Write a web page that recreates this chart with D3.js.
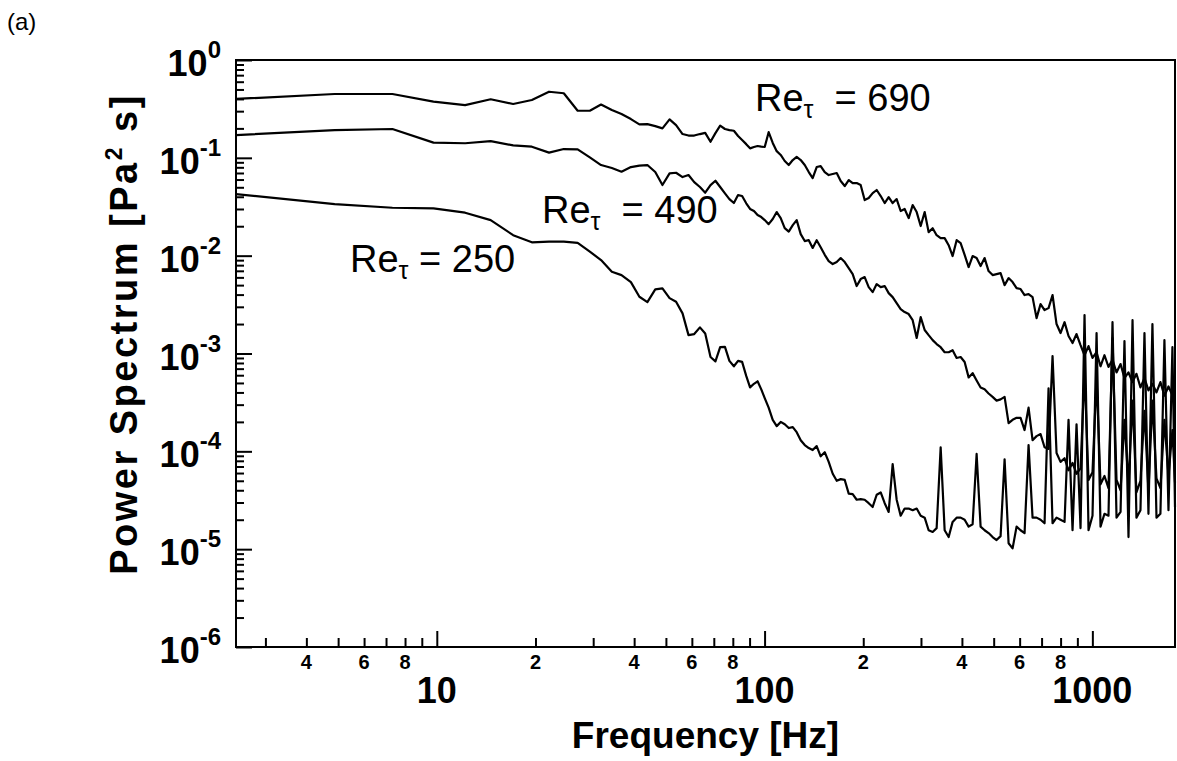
<!DOCTYPE html>
<html lang="en">
<head>
<meta charset="UTF-8">
<title>Power Spectrum</title>
<script src="https://d3js.org/d3.v7.min.js"></script>
<style>
    body { margin: 0; background: #fff; }
    text { font-family: "Liberation Sans", Arial, sans-serif; fill: #000; }
    .curve { fill: none; stroke: #000; stroke-width: 2.2; stroke-linejoin: round; }
    .tick line { stroke: #000; stroke-width: 2; }
</style>
</head>
<body>
<script>
    // frequency grid [Hz]
    const freq = [
        2.44, 4.88, 7.32, 9.77, 12.2, 14.6, 17.1, 19.5, 22.0, 24.4,
        26.9, 29.3, 31.7, 34.2, 36.6, 39.1, 41.5, 43.9, 46.4, 48.8,
        51.3, 53.7, 56.2, 58.6, 61.0, 63.5, 65.9, 68.4, 70.8, 73.2,
        75.7, 78.1, 80.6, 83.0, 85.4, 87.9, 90.3, 92.8, 95.2, 97.7,
        100.1,
        102.9, 105.9, 108.9, 112.0, 115.2, 118.5, 121.9, 125.3, 128.9, 132.6,
        136.4, 140.2, 144.2, 148.3, 152.6, 156.9, 161.4, 166.0, 170.7, 175.6,
        180.6, 185.7, 191.0, 196.4, 202.0, 207.8, 213.7, 219.8, 226.1, 232.5,
        239.1, 245.9, 252.9, 260.1, 267.5, 275.2, 283.0, 291.1, 299.4, 307.9,
        316.6, 325.7, 334.9, 344.5, 354.3, 364.4, 374.7, 385.4, 396.4, 407.7,
        419.3, 431.2, 443.5, 456.1, 469.1, 482.4, 496.2, 510.3, 524.8, 539.8,
        555.2, 571.0, 587.2, 603.9, 621.1, 638.8, 657.0, 675.7, 695.0, 714.8,
        735.1, 756.0, 777.6, 799.7, 822.5, 845.9, 870.0, 894.8, 920.3, 946.5,
        973.4, 1001, 1030, 1059, 1089, 1120, 1152, 1185, 1219, 1253,
        1289, 1326, 1363, 1402, 1442, 1483, 1525, 1569, 1613, 1659,
        1707, 1755, 1787
    ];

    // Re_tau = 690
    const psd690 = [
        0.40, 0.449, 0.449, 0.375, 0.346, 0.397, 0.355, 0.390, 0.474, 0.457,
        0.303, 0.303, 0.351, 0.308, 0.280, 0.249, 0.220, 0.221, 0.211, 0.200,
        0.247, 0.216, 0.175, 0.169, 0.169, 0.175, 0.180, 0.146, 0.179, 0.213,
        0.197, 0.192, 0.189, 0.167, 0.152, 0.138, 0.125, 0.129, 0.132, 0.130,
        0.129,
        0.183, 0.142, 0.117, 0.107, 0.0928, 0.0844, 0.0950, 0.102, 0.0950, 0.0844,
        0.0716, 0.0621, 0.0805, 0.0824, 0.0716, 0.0667, 0.0683, 0.0699, 0.0579, 0.0515,
        0.0593, 0.0552, 0.0552, 0.0527, 0.0370, 0.0388, 0.0436, 0.0469, 0.0407, 0.0345,
        0.0397, 0.0345, 0.0379, 0.0286, 0.0300, 0.0242, 0.0329, 0.0279, 0.0201, 0.0279,
        0.0174, 0.0191, 0.0162, 0.0151, 0.0151, 0.0128, 0.00991, 0.0144, 0.0134, 0.0102,
        0.00765, 0.00991, 0.00945, 0.00783, 0.00945, 0.00696, 0.00633, 0.00648, 0.00664, 0.00500,
        0.00590, 0.00537, 0.00466, 0.00456, 0.00396, 0.00405, 0.00377, 0.00230, 0.00320, 0.00278,
        0.00291, 0.00396, 0.00200, 0.00162, 0.00209, 0.00151, 0.00128, 0.00158, 0.00122, 0.00096,
        0.00119, 0.00090, 0.00103, 0.00074, 0.00096, 0.00073, 0.00086, 0.00064, 0.00078, 0.00056,
        0.00064, 0.00051, 0.00062, 0.00045, 0.00056, 0.00042, 0.00049, 0.00040, 0.00051, 0.00037,
        0.00046, 0.000375, 0.00044
    ];

    // Re_tau = 490
    const psd490 = [
        0.171, 0.192, 0.197, 0.143, 0.141, 0.148, 0.134, 0.130, 0.113, 0.123,
        0.122, 0.101, 0.0844, 0.0787, 0.0721, 0.0805, 0.0834, 0.0844, 0.0716, 0.0527,
        0.0694, 0.0704, 0.0636, 0.0667, 0.0565, 0.0503, 0.0440, 0.0527, 0.0583, 0.0503,
        0.0434, 0.0379, 0.0345, 0.0416, 0.0407, 0.0343, 0.0300, 0.0286, 0.0260, 0.0248,
        0.0231,
        0.0210, 0.0237, 0.0279, 0.0242, 0.0191, 0.0176, 0.0205, 0.0231, 0.0166, 0.0141,
        0.0144, 0.0120, 0.0144, 0.0122, 0.0102, 0.00881, 0.00820, 0.00860, 0.00945, 0.00860,
        0.00747, 0.00648, 0.00489, 0.00576, 0.00604, 0.00477, 0.00424, 0.00512, 0.00477, 0.00489,
        0.00414, 0.00377, 0.00327, 0.00284, 0.00265, 0.00253, 0.00219, 0.00144, 0.00235, 0.00174,
        0.00154, 0.00137, 0.00125, 0.00116, 0.00103, 0.00103, 0.00108, 0.00090, 0.00092, 0.00082,
        0.00057, 0.00063, 0.00053, 0.00045, 0.00043, 0.00039, 0.00036, 0.00033, 0.00034, 0.00036,
        0.000194, 0.00021, 0.00022, 0.00022, 0.000165, 0.00028, 0.00013, 0.000143, 0.00015, 0.00011,
        0.000106, 0.00094, 0.000096, 0.000078, 0.000085, 0.000064, 0.000076, 0.000059, 0.000067, 0.00064,
        0.000051, 0.000061, 0.00056, 0.000046, 0.000056, 0.000042, 0.00144, 0.000051, 0.000040, 0.00021,
        0.000046, 0.00033, 0.000038, 0.000050, 0.00026, 0.000040, 0.00033, 0.000053, 0.000042, 0.00021,
        0.000056, 0.000165, 0.000048
    ];

    // Re_tau = 250
    const psd250 = [
        0.0426, 0.0337, 0.0309, 0.0304, 0.0275, 0.0231, 0.0162, 0.0137, 0.0139, 0.0139,
        0.0135, 0.0110, 0.00901, 0.00684, 0.00633, 0.00537, 0.00380, 0.00335, 0.00452, 0.00463,
        0.00368, 0.00338, 0.00257, 0.00154, 0.00158, 0.00185, 0.00160, 0.00092, 0.00083, 0.00116,
        0.00117, 0.00084, 0.00074, 0.00084, 0.00082, 0.00059, 0.00045, 0.00049, 0.00052, 0.00043,
        0.00035,
        2.8e-4, 2.1e-4, 1.81e-4, 2.0e-4, 1.89e-4, 1.73e-4, 1.77e-4, 1.57e-4, 1.3e-4, 1.16e-4,
        1.08e-4, 1.03e-4, 1.13e-4, 8.9e-5, 9.8e-5, 7.8e-5, 5.9e-5, 5.0e-5, 5.2e-5, 5.1e-5,
        3.7e-5, 3.65e-5, 3.2e-5, 3.25e-5, 3.2e-5, 2.95e-5, 2.7e-5, 3.6e-5, 3.8e-5, 2.95e-5,
        2.4e-5, 7.4e-5, 3.2e-5, 2.2e-5, 2.6e-5, 2.6e-5, 2.5e-5, 2.6e-5, 2.2e-5, 2.1e-5,
        1.56e-5, 1.5e-5, 1.64e-5, 1.1e-4, 1.56e-5, 1.33e-5, 1.9e-5, 2.1e-5, 2.1e-5, 2.0e-5,
        1.7e-5, 1.8e-5, 9.4e-5, 1.7e-5, 1.56e-5, 1.46e-5, 1.33e-5, 1.24e-5, 1.36e-5, 8.3e-5,
        1.15e-5, 1.02e-5, 1.7e-5, 1.56e-5, 1.46e-5, 1.16e-4, 2.1e-5, 2.1e-5, 2.0e-5, 1.84e-5,
        4.4e-4, 1.84e-5, 2.1e-5, 2.0e-5, 1.9e-5, 2.1e-4, 1.56e-5, 1.89e-4, 1.64e-5, 2.47e-3,
        1.56e-5, 2.2e-5, 1.62e-3, 1.7e-5, 2.3e-5, 2.2e-5, 2.09e-3, 2.1e-5, 2.4e-5, 1.34e-3,
        1.33e-5, 2.19e-3, 2.1e-5, 2.5e-5, 1.62e-3, 2.3e-5, 2.0e-3, 2.1e-5, 2.3e-5, 1.37e-3,
        2.5e-5, 1.16e-3, 2.7e-5
    ];

    const yExponents = [0, -1, -2, -3, -4, -5, -6];
    const xMajorLabels = [10, 100, 1000];
    const xMinorLabels = [4, 6, 8, 20, 40, 60, 80, 200, 400, 600, 800];
    const reLabels = ["690", "490", "250"];

    const width = 1177, height = 761;
    const plotL = 236, plotR = 1175, plotT = 60, plotB = 647;

    const x = d3.scaleLog().domain([2.44, 1787]).range([plotL, plotR]);
    const y = d3.scaleLog().domain([1e-6, 1]).range([plotB, plotT]);

    const svg = d3.select("body").append("svg")
        .attr("width", width).attr("height", height);

    const isMajor = v => Math.abs(Math.log10(v) - Math.round(Math.log10(v))) < 1e-6;

    // x ticks (inside)
    const xTicks = x.ticks();
    svg.append("g").attr("transform", `translate(0,${plotB})`)
        .call(d3.axisBottom(x).tickValues(xTicks.filter(v => !isMajor(v))).tickSize(-9).tickFormat(""))
        .call(g => g.select(".domain").remove());
    svg.append("g").attr("transform", `translate(0,${plotB})`)
        .call(d3.axisBottom(x).tickValues(xTicks.filter(isMajor)).tickSize(-16).tickFormat(""))
        .call(g => g.select(".domain").remove());

    // y ticks (inside)
    const yTicks = y.ticks();
    svg.append("g").attr("transform", `translate(${plotL},0)`)
        .call(d3.axisLeft(y).tickValues(yTicks.filter(v => !isMajor(v))).tickSize(-8).tickFormat(""))
        .call(g => g.select(".domain").remove());
    svg.append("g").attr("transform", `translate(${plotL},0)`)
        .call(d3.axisLeft(y).tickValues(yTicks.filter(isMajor)).tickSize(-16).tickFormat(""))
        .call(g => g.select(".domain").remove());

    // frame
    svg.append("rect")
        .attr("x", plotL).attr("y", plotT)
        .attr("width", plotR - plotL).attr("height", plotB - plotT)
        .attr("fill", "none").attr("stroke", "#000").attr("stroke-width", 2);

    // x tick labels
    svg.selectAll("text.xminor").data(xMinorLabels).join("text")
        .attr("class", "xminor")
        .attr("x", d => x(d)).attr("y", 669)
        .attr("text-anchor", "middle")
        .style("font-size", "20px").style("font-weight", "bold")
        .text(d => String(d)[0]);
    svg.selectAll("text.xmajor").data(xMajorLabels).join("text")
        .attr("class", "xmajor")
        .attr("x", d => x(d)).attr("y", 703)
        .attr("text-anchor", "middle")
        .style("font-size", "36px").style("font-weight", "bold")
        .text(d => d);

    // y tick labels
    const yl = svg.selectAll("text.ylab").data(yExponents).join("text")
        .attr("class", "ylab")
        .attr("x", 221).attr("y", d => y(Math.pow(10, d)) + 16)
        .attr("text-anchor", "end")
        .style("font-weight", "bold");
    yl.append("tspan").style("font-size", "36px").text("10");
    yl.append("tspan").style("font-size", "24px").attr("dy", -18).text(d => d === 0 ? "0" : "-" + (-d));

    // curves
    const line = d3.line().x(d => x(d[0])).y(d => y(d[1]));
    [psd690, psd490, psd250].forEach(vals => {
        svg.append("path").attr("class", "curve")
            .attr("d", line(d3.zip(freq, vals)));
    });

    // curve labels
    const labelPos = [[755, 111, "  "], [542, 223, "  "], [350, 272, " "]];
    reLabels.forEach((v, i) => {
        const [lx, ly, gap] = labelPos[i];
        const t = svg.append("text").attr("x", lx).attr("y", ly)
            .style("font-size", "38px").style("white-space", "pre");
        t.append("tspan").text("Re");
        t.append("tspan").style("font-size", "25px").attr("dy", 7).text("\u03c4");
        t.append("tspan").attr("dy", -7).text(gap + "= " + v);
    });

    // axis titles
    svg.append("text")
        .attr("x", (plotL + plotR) / 2).attr("y", 748)
        .attr("text-anchor", "middle")
        .style("font-size", "37px").style("font-weight", "bold")
        .text("Frequency [Hz]");

    const yt = svg.append("text")
        .attr("transform", "translate(137,334) rotate(-90)")
        .attr("text-anchor", "middle")
        .style("font-size", "38px").style("font-weight", "bold")
        .style("letter-spacing", "2.5px")
        .style("white-space", "pre");
    yt.append("tspan").text("Power Spectrum [Pa");
    yt.append("tspan").style("font-size", "23px").attr("dy", -15).text("2");
    yt.append("tspan").attr("dy", 15).text(" s]");

    svg.append("text")
        .attr("x", 7).attr("y", 30)
        .style("font-size", "24px")
        .text("(a)");
</script>
</body>
</html>
